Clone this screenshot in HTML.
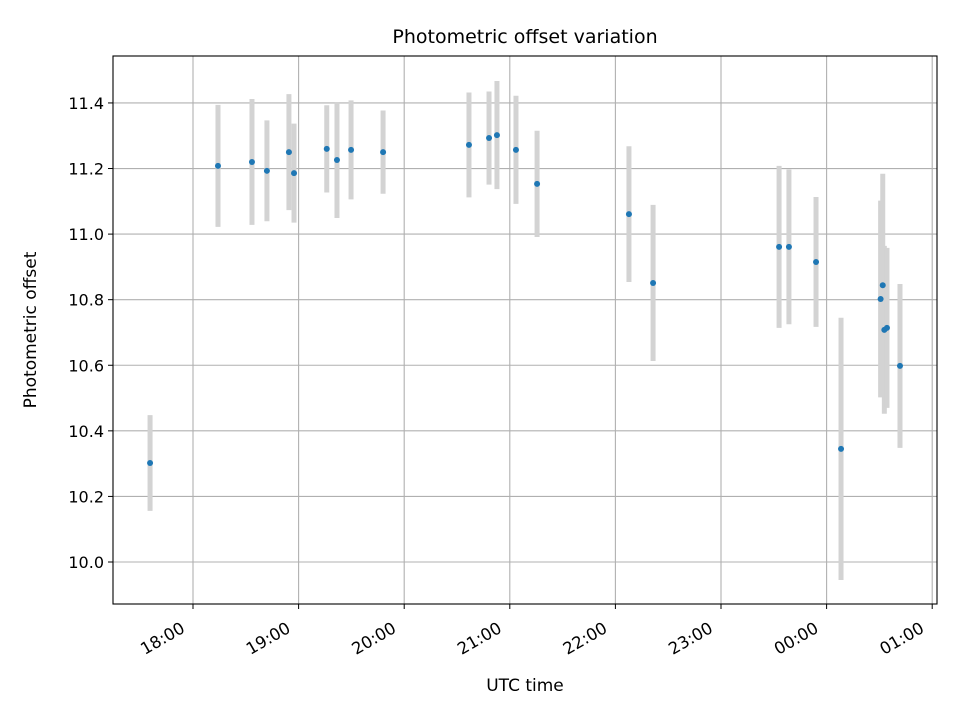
<!DOCTYPE html>
<html><head><meta charset="utf-8"><style>
body{margin:0;background:#fff;font-family:"Liberation Sans","DejaVu Sans",sans-serif}
</style></head><body>
<svg id="chart" width="960" height="720" xmlns="http://www.w3.org/2000/svg" font-family="DejaVu Sans, Liberation Sans, sans-serif">
<rect width="960" height="720" fill="#fff"/>
<g id="grid"></g><g id="err"></g><g id="pts"></g><g id="axes"></g>
</svg>
<script>
// minutes relative to 18:00 UTC
const times=[-24.4,14.2,33.5,42,54.5,57.4,76,81.8,89.8,108,156.8,168.2,172.7,183.5,195.5,247.7,261.4,333,338.6,354,368.2,390.7,391.9,392.8,394.3,401.7];
const offsets=[10.302,11.208,11.220,11.193,11.250,11.186,11.260,11.226,11.257,11.250,11.272,11.293,11.302,11.257,11.153,11.061,10.851,10.961,10.961,10.915,10.345,10.802,10.844,10.708,10.714,10.598];
const errors=[0.146,0.186,0.192,0.154,0.177,0.151,0.133,0.177,0.151,0.127,0.16,0.142,0.165,0.165,0.162,0.207,0.238,0.247,0.236,0.198,0.40,0.30,0.34,0.256,0.244,0.25];
const xTickMinutes=[0,60,120,180,240,300,360,420];
const xTickLabels=["18:00","19:00","20:00","21:00","22:00","23:00","00:00","01:00"];
const yTicks=[10.0,10.2,10.4,10.6,10.8,11.0,11.2,11.4];

const NS="http://www.w3.org/2000/svg";
const L=113,R=937,T=56,B=604;
const xs=m=>193+m*(105.6/60);
const ys=v=>562-(v-10)*327.9;
function mk(tag,attrs,parent,txt){const e=document.createElementNS(NS,tag);for(const k in attrs)e.setAttribute(k,attrs[k]);if(txt!==undefined)e.textContent=txt;document.getElementById(parent).appendChild(e);return e;}

xTickMinutes.forEach((m,i)=>{
  const x=xs(m);
  const g=mk('line',{x1:x,x2:x,y1:T,y2:B,stroke:'#b0b0b0','stroke-width':1.1},'grid');
  
  
  mk('line',{x1:x,x2:x,y1:B,y2:B+5,stroke:'#000','stroke-width':1},'axes');
  const t=mk('text',{x:0,y:12,'font-size':16.5,'text-anchor':'end',transform:`translate(${x-13} ${B+17}) rotate(-30)`},'axes',xTickLabels[i]);
  
  
});
yTicks.forEach(v=>{
  const y=ys(v);
  const g=mk('line',{x1:L,x2:R,y1:y,y2:y,stroke:'#b0b0b0','stroke-width':1.1},'grid');
  
  
  mk('line',{x1:L-5,x2:L,y1:y,y2:y,stroke:'#000','stroke-width':1},'axes');
  const t=mk('text',{x:L-9,y:y+6,'font-size':16,'text-anchor':'end'},'axes',v.toFixed(1));
  
  
});
times.forEach((m,i)=>{
  const x=xs(m);
  const e=mk('line',{x1:x,x2:x,y1:ys(offsets[i]+errors[i]),y2:ys(offsets[i]-errors[i]),stroke:'#d3d3d3','stroke-width':5},'err');
  
  
});
times.forEach((m,i)=>{
  const p=mk('circle',{cx:xs(m),cy:ys(offsets[i]),r:3,fill:'#1f77b4'},'pts');
  
  
});
const frame=mk('rect',{x:L,y:T,width:R-L,height:B-T,fill:'none',stroke:'#000','stroke-width':1.1},'axes');


const title=mk('text',{x:(L+R)/2,y:43,'font-size':19,'text-anchor':'middle'},'axes','Photometric offset variation');


const xl=mk('text',{x:(L+R)/2,y:691,'font-size':17,'text-anchor':'middle'},'axes','UTC time');


const yl=mk('text',{x:36,y:330,'font-size':17,'text-anchor':'middle',transform:'rotate(-90 36 330)'},'axes','Photometric offset');


</script>
</body></html>
